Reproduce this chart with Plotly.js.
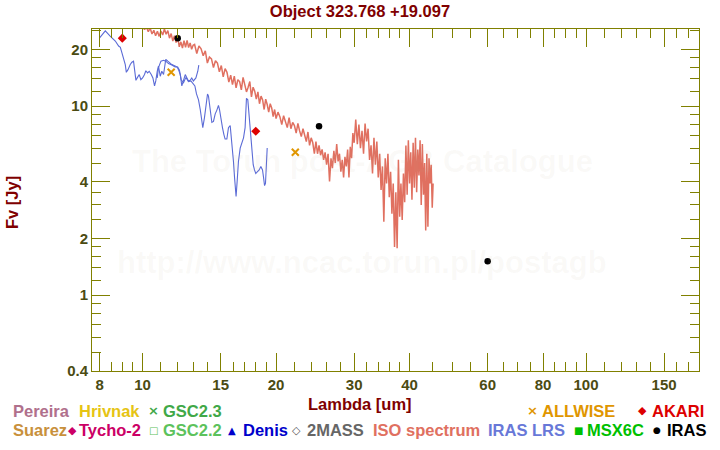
<!DOCTYPE html>
<html><head><meta charset="utf-8">
<script src="https://cdn.plot.ly/plotly-3.0.1.min.js"></script>
<style>html,body{margin:0;padding:0;background:#fff;} #chart{width:720px;height:450px;}</style>
</head><body><div id="chart"></div>
<script>
const FONT = 'Liberation Sans, Arial, Helvetica, sans-serif';

// ---------------- data ----------------
const titleText = 'Object 323.768 +19.097';
const xTitle = 'Lambda [um]';
const yTitle = 'Fv [Jy]';

const xMajor = [8, 10, 15, 20, 30, 40, 60, 80, 100, 150];
const xMajorText = ['8', '10', '15', '20', '30', '40', '60', '80', '100', '150'];
const xMinor = [8.5, 9, 9.5, 11, 12, 13, 14, 16, 17, 18, 19, 22, 24, 26, 28, 32, 34, 36, 38,
                45, 50, 55, 65, 70, 75, 85, 90, 95, 110, 120, 130, 140, 160, 170];
const yMajor = [0.4, 1, 2, 4, 10, 20];
const yMajorText = ['0.4', '1', '2', '4', '10', '20'];
const yMinor = [0.5, 0.6, 0.7, 0.8, 0.9, 1.2, 1.4, 1.6, 1.8, 2.5, 3, 3.5, 5, 6, 7, 8, 9,
                12, 14, 16, 18, 25];

// ISO spectrum
const isoLambda = [
  9.9, 10.0, 10.1, 10.2, 10.3, 10.4, 10.5, 10.6, 10.7, 10.8, 10.9, 11.0, 11.1, 11.2, 11.3, 11.4,
  11.5, 11.6, 11.7, 11.8, 11.9, 12.0, 12.1, 12.2, 12.3, 12.4, 12.5, 12.6, 12.7, 12.8, 12.9, 13.0,
  13.1, 13.25, 13.4, 13.55, 13.7, 13.85, 14.0, 14.15, 14.3, 14.45, 14.6, 14.75, 14.9, 15.05,
  15.2, 15.35, 15.5, 15.65, 15.8, 15.95, 16.1, 16.25, 16.4, 16.55, 16.7, 16.85, 17.0, 17.15,
  17.3, 17.45, 17.6, 17.75, 17.9, 18.05, 18.2, 18.35, 18.5, 18.65, 18.8, 18.95, 19.1, 19.25,
  19.4, 19.55, 19.7, 19.85,
  20.0, 20.2, 20.4, 20.6, 20.8, 21.0, 21.2, 21.4, 21.6, 21.8, 22.0, 22.2, 22.4, 22.6, 22.8,
  23.0, 23.2, 23.4, 23.6, 23.8, 24.0, 24.2, 24.4, 24.6, 24.8,
  25.0, 25.2, 25.4, 25.6, 25.8, 26.0, 26.2, 26.4, 26.6, 26.8, 27.0, 27.2, 27.4, 27.6, 27.8,
  28.0, 28.2, 28.4, 28.6, 28.8, 29.0, 29.2, 29.4, 29.6, 29.8,
  30.0, 30.25, 30.5, 30.75, 31.0, 31.25, 31.5, 31.75, 32.0, 32.25, 32.5, 32.75, 33.0, 33.25,
  33.5, 33.75, 34.0, 34.25, 34.5, 34.75, 35.0, 35.25, 35.5, 35.75, 36.0, 36.25, 36.5, 36.75,
  37.0, 37.25, 37.5, 37.75, 38.0, 38.25, 38.5, 38.75, 39.0, 39.25, 39.5, 39.75, 40.0, 40.25,
  40.5, 40.75, 41.0, 41.25, 41.5, 41.75, 42.0, 42.25, 42.5, 42.75, 43.0, 43.25, 43.5, 43.75,
  44.0, 44.25, 44.5, 44.75, 45.0, 45.2
];
const isoFlux = [
  28.5, 27.0, 25.4, 26.2, 24.8, 25.9, 24.1, 25.2, 23.6, 24.9, 23.4, 25.0, 23.8, 25.6, 24.0, 25.1,
  22.9, 24.2, 22.1, 23.6, 21.7, 23.2, 20.6, 21.9, 20.3, 22.2, 20.5, 22.3, 20.4, 21.6, 20.0, 21.0,
  21.2, 19.0, 20.8, 20.1, 18.5, 19.6, 16.9, 18.2, 17.8, 16.0, 17.4, 16.9, 15.2, 16.4,
  14.3, 15.8, 15.1, 13.4, 14.6, 13.0, 14.4, 12.5, 13.8, 13.5, 12.2, 14.2, 12.9, 11.9,
  12.6, 13.5, 11.2, 12.6, 12.0, 10.9, 11.9, 10.3, 11.3, 10.8, 9.6, 10.9, 10.2, 9.3,
  10.3, 9.8, 8.8, 9.6,
  8.6, 9.3, 8.8, 8.0, 8.9, 8.3, 7.7, 8.7, 7.6, 8.2, 7.9, 7.2, 8.1, 7.4, 6.9,
  7.6, 7.1, 6.5, 7.3, 6.2, 6.8, 6.4, 5.6, 6.5, 5.6,
  6.2, 5.5, 5.9, 5.2, 5.7, 4.9, 5.6, 4.0, 5.3, 4.7, 5.8, 5.0, 6.3, 5.1, 5.6,
  4.5, 5.2, 4.2, 5.4, 4.8, 5.9, 4.2, 6.1, 5.3, 7.2,
  6.4, 8.5, 6.3, 8.0, 6.0, 7.4, 5.6, 8.1, 6.5, 7.6, 5.2, 6.2, 4.4, 6.8,
  4.9, 6.5, 4.2, 5.6, 3.6, 4.8, 2.45, 5.3, 3.9, 5.6, 3.3, 4.5, 2.7, 3.9,
  1.8, 3.5, 1.77, 5.2, 2.6, 3.9, 2.5, 4.4, 3.1, 6.2, 3.4, 6.6, 3.9, 5.7,
  3.2, 6.4, 3.7, 6.8, 3.5, 5.9, 4.3, 6.6, 3.0, 6.3, 3.4, 5.0, 2.2, 5.6,
  2.3, 5.3, 3.9, 4.9, 2.9, 3.9
];

// IRAS LRS, blue band
const lrsBlueLambda = [8.0, 8.24, 8.45, 8.56, 8.68, 8.83, 8.91, 8.98, 9.06, 9.14, 9.19, 9.27, 9.38,
  9.46, 9.54, 9.59, 9.66, 9.74, 9.83, 9.91, 10.0, 10.10, 10.17, 10.26, 10.35, 10.46, 10.55, 10.64,
  10.71, 10.79, 10.86, 10.96, 11.05, 11.15, 11.21, 11.28, 11.40, 11.48, 11.64, 11.84, 11.97, 12.05,
  12.16, 12.26, 12.37, 12.48, 12.59, 12.69, 12.80, 12.91, 13.02, 13.19, 13.32, 13.39];
const lrsBlueFlux = [23.0, 25.0, 23.5, 22.8, 22.1, 20.8, 20.5, 19.2, 17.7, 16.6, 15.1, 15.6, 16.6,
  17.1, 17.3, 15.4, 13.7, 14.2, 14.7, 13.8, 14.1, 14.7, 15.4, 15.0, 15.3, 14.7, 14.1, 12.8,
  13.6, 15.3, 16.3, 14.4, 15.3, 14.7, 16.6, 17.7, 17.3, 17.0, 16.6, 16.3, 16.1, 15.6,
  14.7, 12.8, 13.6, 14.7, 14.1, 13.6, 13.7, 14.1, 13.6, 14.1, 15.3, 16.5];
// IRAS LRS, red band
const lrsRedLambda = [10.79, 10.86, 11.00, 11.15, 11.28, 11.44, 11.64, 11.84, 12.00, 12.11, 12.22,
  12.37, 12.52, 12.69, 12.85, 13.02, 13.12, 13.23, 13.37, 13.49, 13.60, 13.67, 13.79, 13.91, 14.01,
  14.08, 14.20, 14.33, 14.45, 14.58, 14.70, 14.83, 14.91, 15.04, 15.14, 15.25, 15.35, 15.49, 15.62,
  15.76, 15.89, 16.03, 16.12, 16.20, 16.25, 16.34, 16.45, 16.60, 16.74, 16.89, 17.03, 17.15, 17.27,
  17.39, 17.57, 17.76, 17.88, 18.00, 18.16, 18.32, 18.48, 18.64, 18.74, 18.84, 18.93, 19.10];
const lrsRedFlux = [14.1, 16.0, 17.3, 17.5, 17.3, 16.8, 16.5, 16.1, 16.1, 15.5, 13.8,
  13.3, 14.2, 13.5, 13.6, 13.1, 12.8, 11.6, 10.8, 9.6, 8.5, 7.7, 8.7, 10.3, 11.6,
  11.3, 9.6, 8.2, 8.3, 9.1, 9.5, 10.1, 9.6, 8.2, 7.7, 7.1, 6.7, 6.7, 7.7,
  7.9, 6.5, 5.1, 4.2, 3.5, 3.33, 4.0, 5.1, 6.0, 6.4, 6.8, 7.7, 11.0, 10.8,
  8.7, 6.3, 4.9, 4.6, 4.4, 4.5, 4.6, 4.8, 4.6, 4.2, 3.8, 3.9, 6.0];

// photometry
const akariLambda = [9.0, 18.0];
const akariFlux = [22.9, 7.37];
const irasLambda = [12, 25, 60];
const irasFlux = [22.9, 7.83, 1.51];
const allwiseLambda = [11.6, 22.1];
const allwiseFlux = [15.1, 5.7];

// ---------------- layout helpers ----------------
const W = 720, H = 450;
const M = {l: 92, r: 21, t: 29, b: 79};
const PW = W - M.l - M.r, PH = H - M.t - M.b;
const px = v => (v - M.l) / PW;
const py = v => (H - M.b - v) / PH;

const AX = '#808000';
const TICKC = '#4b4b12';
const DARKRED = '#800000';

const traces = [
  {x: isoLambda, y: isoFlux, type: 'scatter', mode: 'lines', name: 'ISO spectrum',
   line: {color: '#e07060', width: 1.5}, showlegend: false, hoverinfo: 'skip'},
  {x: lrsBlueLambda, y: lrsBlueFlux, type: 'scatter', mode: 'lines', name: 'IRAS LRS',
   line: {color: '#5b6bd6', width: 1.1}, showlegend: false},
  {x: lrsRedLambda, y: lrsRedFlux, type: 'scatter', mode: 'lines', name: 'IRAS LRS',
   line: {color: '#5b6bd6', width: 1.1}, showlegend: false},
  {x: allwiseLambda, y: allwiseFlux, type: 'scatter', mode: 'markers', name: 'ALLWISE',
   marker: {symbol: 'x-thin', size: 7, line: {color: '#e09600', width: 2}}, showlegend: false},
  {x: akariLambda, y: akariFlux, type: 'scatter', mode: 'markers', name: 'AKARI',
   marker: {symbol: 'diamond', size: 7, color: '#dd0000'}, showlegend: false},
  {x: irasLambda, y: irasFlux, type: 'scatter', mode: 'markers', name: 'IRAS',
   marker: {symbol: 'circle', size: 6.5, color: '#000000'}, showlegend: false}
];

// legend entries drawn as text
const legendItems = [
  {t: 'Pereira', c: '#b0708c', x: 11, y: 410.5},
  {t: 'Hrivnak', c: '#e6c414', x: 77, y: 410.5},
  {t: '×', c: '#40a848', x: 146, y: 410.5, s: 13},
  {t: 'GSC2.3', c: '#40a848', x: 161, y: 410.5},
  {t: '×', c: '#e09600', x: 525, y: 410.5, s: 13},
  {t: 'ALLWISE', c: '#e09600', x: 540, y: 410.5},
  {t: '◆', c: '#dd0000', x: 636, y: 410.5, s: 11},
  {t: 'AKARI', c: '#dd0000', x: 650, y: 410.5},
  {t: 'Suarez', c: '#c8903c', x: 11, y: 430},
  {t: '◆', c: '#cc0066', x: 65.5, y: 430, s: 11},
  {t: 'Tycho-2', c: '#cc0066', x: 76.5, y: 430},
  {t: '□', c: '#5cc25c', x: 147, y: 430, s: 10},
  {t: 'GSC2.2', c: '#5cc25c', x: 161, y: 430},
  {t: '▲', c: '#0000cc', x: 226, y: 430, s: 10},
  {t: 'Denis', c: '#0000cc', x: 240.5, y: 430},
  {t: '◇', c: '#555555', x: 290, y: 430, s: 11},
  {t: '2MASS', c: '#666666', x: 305, y: 430},
  {t: 'ISO spectrum', c: '#e07060', x: 371, y: 430},
  {t: 'IRAS LRS', c: '#6878d8', x: 485.5, y: 430},
  {t: '■', c: '#00c000', x: 571.5, y: 430, s: 10},
  {t: 'MSX6C', c: '#00c000', x: 585, y: 430},
  {t: '●', c: '#000000', x: 651, y: 430, s: 9},
  {t: 'IRAS', c: '#000000', x: 665, y: 430}
];

const annotations = [];
// watermark
[['The Torun post-AGB Catalogue', 162], ['http://www.ncac.torun.pl/postagb', 262]].forEach(([t, yy]) => {
  annotations.push({text: t, xref: 'paper', yref: 'paper', x: px(362), y: py(yy),
    xanchor: 'center', yanchor: 'middle', showarrow: false,
    font: {family: FONT, size: 31, weight: 700, color: 'rgba(190,170,130,0.065)'}});
});
// axis titles
annotations.push({text: xTitle, xref: 'paper', yref: 'paper', x: px(360), y: py(404),
  xanchor: 'center', yanchor: 'middle', showarrow: false,
  font: {family: FONT, size: 16.5, weight: 700, color: DARKRED}});
annotations.push({text: yTitle, xref: 'paper', yref: 'paper', x: px(12), y: py(203),
  xanchor: 'center', yanchor: 'middle', showarrow: false, textangle: -90,
  font: {family: FONT, size: 16.5, weight: 700, color: DARKRED}});
legendItems.forEach(it => {
  annotations.push({text: it.t, xref: 'paper', yref: 'paper', x: px(it.x), y: py(it.y),
    xanchor: 'left', yanchor: 'middle', showarrow: false,
    font: {family: it.s ? 'DejaVu Sans, ' + FONT : FONT, size: it.s || 16.5, weight: 700, color: it.c}});
});

const axisCommon = {
  type: 'log', tickmode: 'array', ticks: 'inside', ticklen: 18, tickwidth: 1, tickcolor: AX,
  showline: true, linecolor: AX, linewidth: 1, mirror: 'ticks', showgrid: false, zeroline: false,
  tickfont: {family: FONT, size: 15, weight: 700, color: TICKC}
};

const layout = {
  width: W, height: H, autosize: false,
  margin: M, paper_bgcolor: '#ffffff', plot_bgcolor: '#ffffff',
  showlegend: false,
  title: {text: titleText, x: 0.5, xref: 'container', xanchor: 'center',
          y: 1 - 11 / H, yref: 'container', yanchor: 'middle',
          font: {family: FONT, size: 16.5, weight: 700, color: DARKRED}},
  xaxis: Object.assign({}, axisCommon, {
    range: [Math.log10(7.69), Math.log10(179.8)],
    tickvals: xMajor, ticktext: xMajorText,
    minor: {tickmode: 'array', tickvals: xMinor, ticks: 'inside', ticklen: 9, tickwidth: 1, tickcolor: AX, showgrid: false}
  }),
  yaxis: Object.assign({}, axisCommon, {
    range: [Math.log10(0.397), Math.log10(25.6)],
    tickvals: yMajor, ticktext: yMajorText,
    minor: {tickmode: 'array', tickvals: yMinor, ticks: 'inside', ticklen: 9, tickwidth: 1, tickcolor: AX, showgrid: false}
  }),
  annotations: annotations
};

Plotly.newPlot('chart', traces, layout, {displayModeBar: false, staticPlot: true});
</script></body></html>
